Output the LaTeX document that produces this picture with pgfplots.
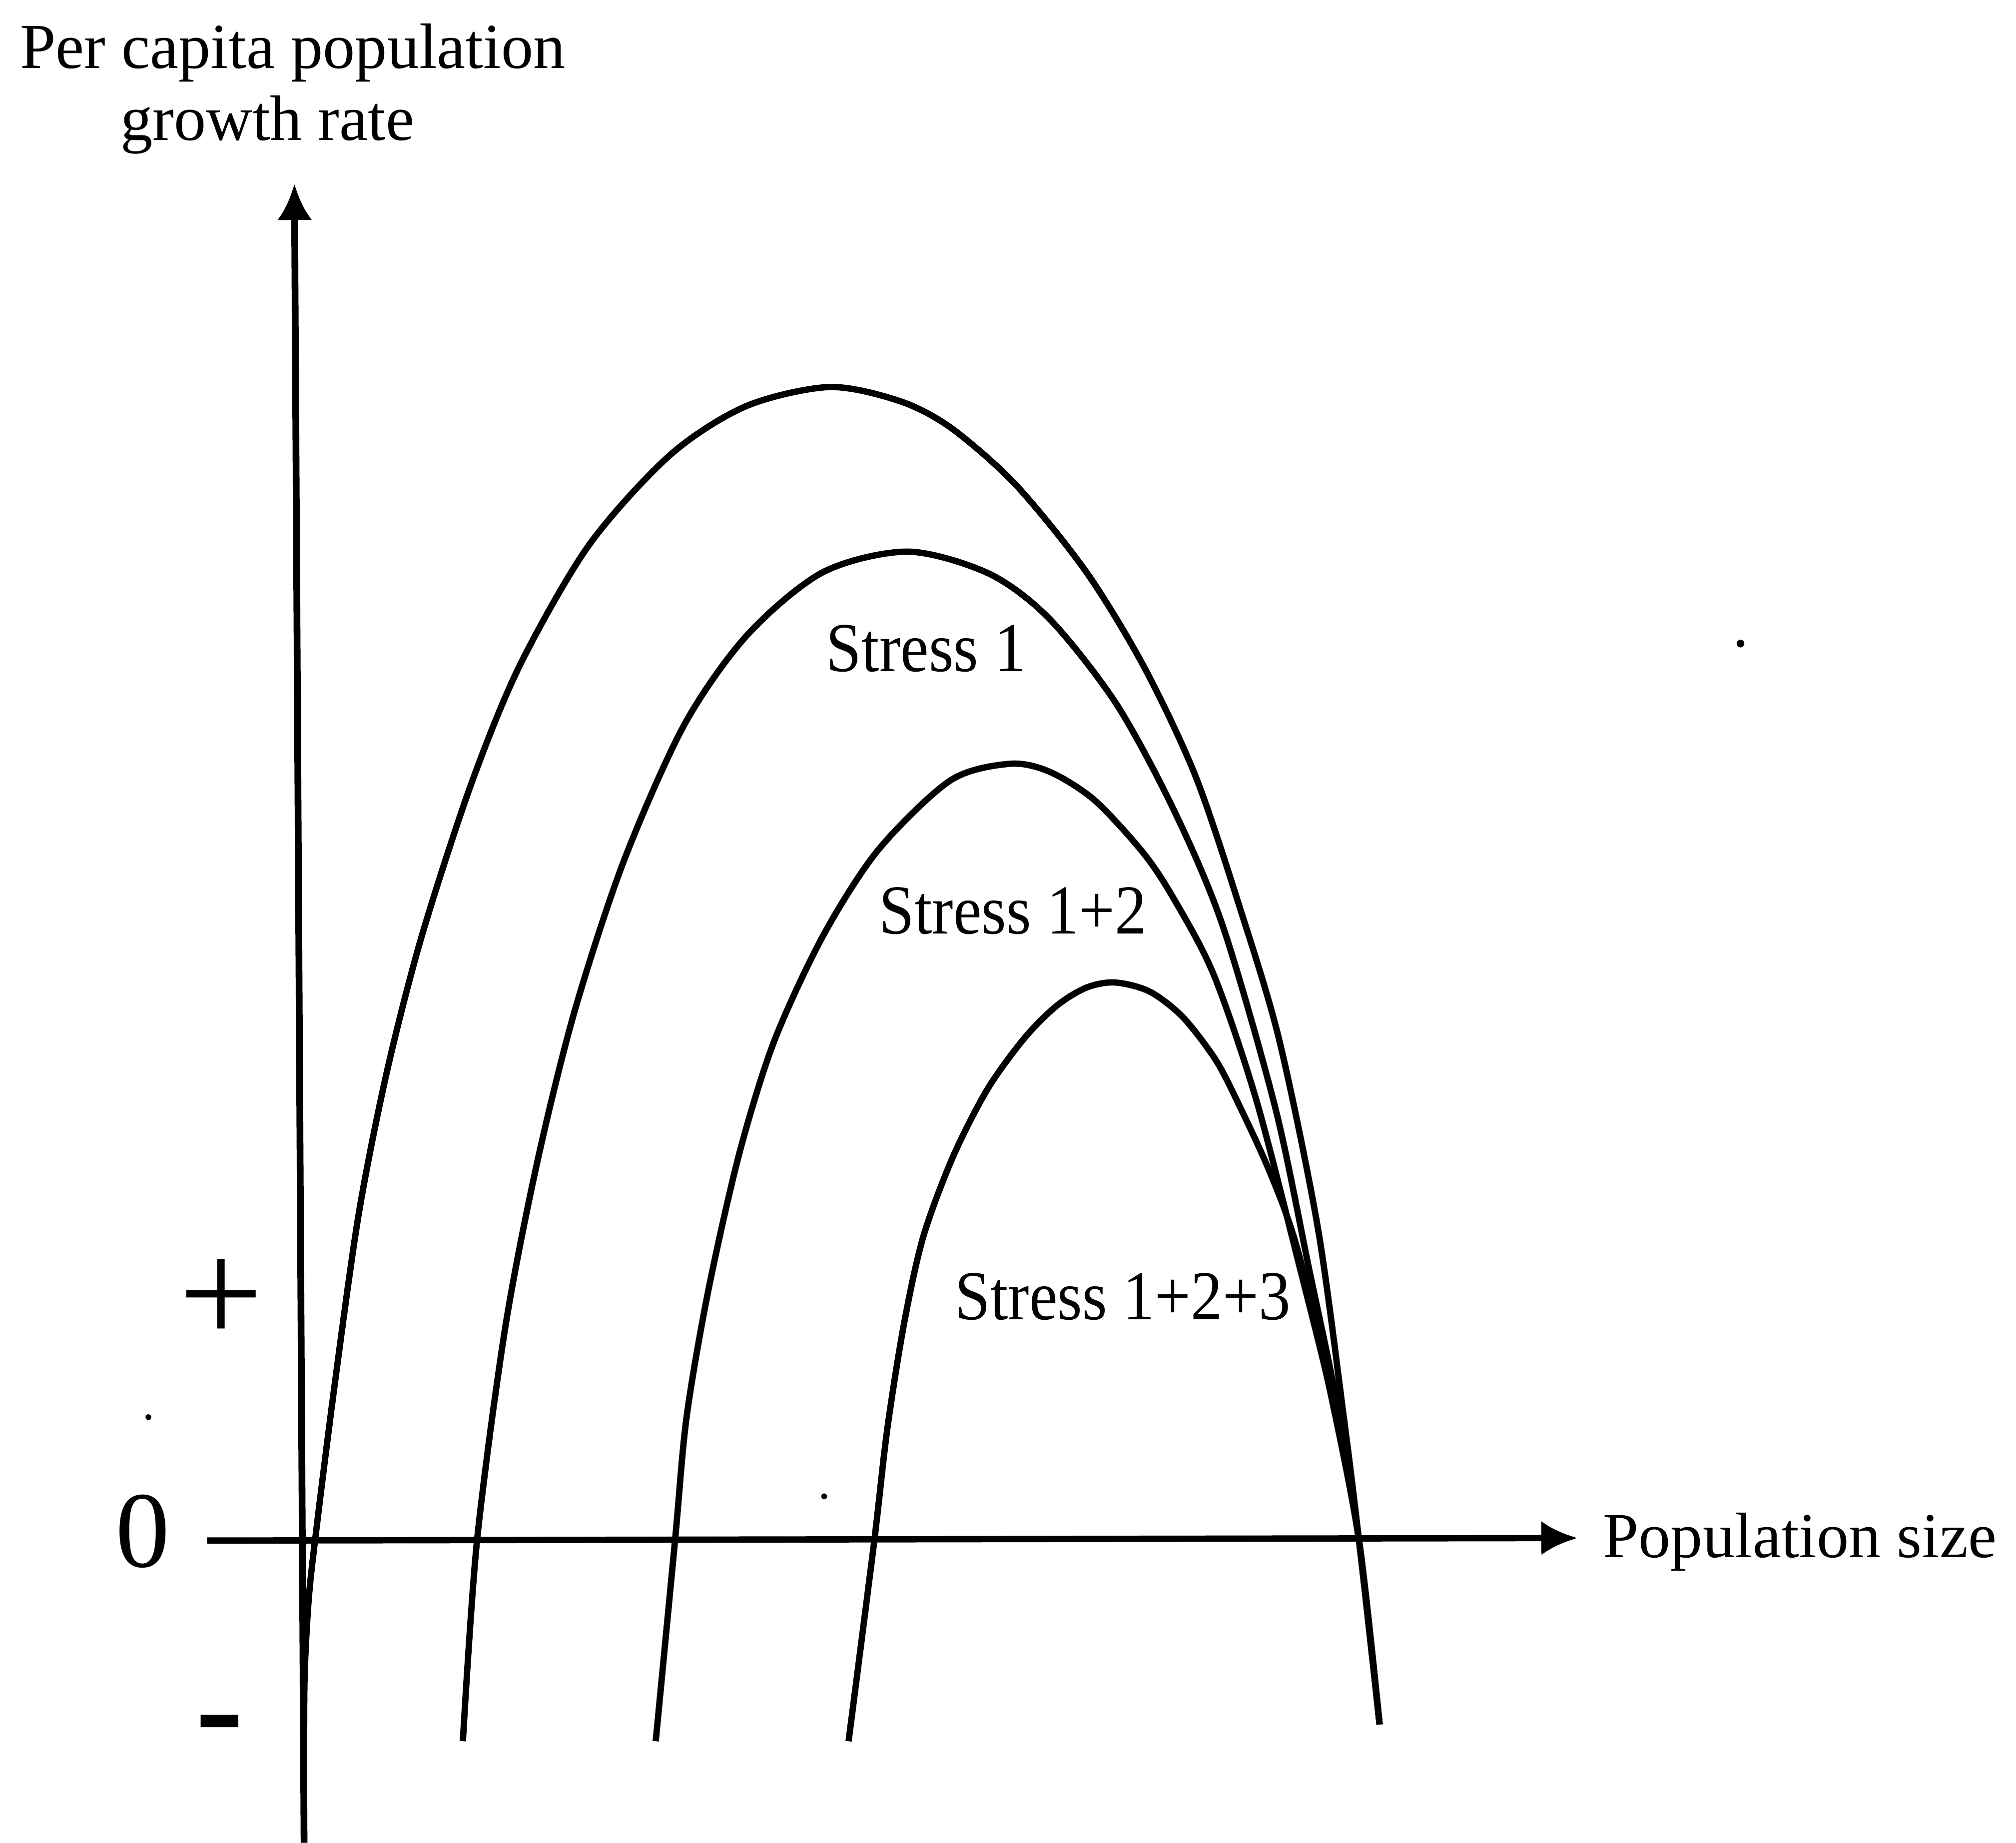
\documentclass[border=0pt]{standalone}
\usepackage{pgfplots}
\pgfplotsset{compat=1.18}
\usepackage{graphicx}
\usepackage{fontspec}
\setmainfont{Liberation Serif}
\usetikzlibrary{arrows.meta}
\begin{document}
\begin{tikzpicture}
\begin{axis}[
  scale only axis, width=15.68cm, height=14.33cm,
  xmin=0, xmax=1568, ymin=-235, ymax=1198,
  hide axis, clip=false]
% axes
\addplot[line width=1.5pt, -{Latex[length=8pt,width=7.7pt]}] coordinates {(236.5,-235) (229,1055)};
\addplot[line width=1.4pt, -{Latex[length=8pt,width=7.5pt]}] coordinates {(161,0) (1227,2)};
% no stress
\addplot[line width=1.4pt, smooth] coordinates {
(236.5,-154) (237,-102) (240,-47) (245,0) (260,119) (279,254) (301,365) (328,470)
(366,587) (404,680) (458,774) (521,844) (580,882) (645,897) (700,886) (740,865)
(790,821) (845,753) (890,679) (930,594) (965,490) (995,389) (1025,243) (1045,97)
(1057,0) (1073,-143)};
% stress 1
\addplot[line width=1.4pt, smooth] coordinates {
(360,-156) (371,0) (393,166) (418,295) (447,412) (485,528) (532,634) (581,704)
(640,753) (706,769) (769,752) (816,717) (868,651) (913,568) (951,478) (992,336)
(1018,212) (1040,106) (1057,0) (1073,-143)};
% stress 1+2
\addplot[line width=1.4pt, smooth] coordinates {
(510,-156) (525,0) (534,96) (551,195) (575,301) (602,388) (640,470) (683,537)
(739,591) (785,604) (816,598) (851,576) (889,535) (913,499) (944,440) (977,343)
(1011,212) (1036,110) (1057,0) (1073,-143)};
% stress 1+2+3
\addplot[line width=1.4pt, smooth] coordinates {
(660,-156) (680,0) (690,86) (703,168) (718,236) (741,298) (768,351) (797,391)
(822,416) (845,430) (867,434) (894,427) (920,407) (946,373) (965,336) (984,295)
(1000,255) (1013,212) (1034,119) (1057,0) (1073,-143)};
% specks
\addplot[only marks, mark=*, mark size=0.65pt] coordinates {(1353.7,697.5)};
\addplot[only marks, mark=*, mark size=0.45pt] coordinates {(641,34.4) (115.4,96)};
% labels
\node[anchor=base west, inner sep=0pt, font=\fontsize{14.2}{16}\selectfont] at (axis cs:15,1145) {Per capita population};
\node[anchor=base west, inner sep=0pt, font=\fontsize{14.2}{16}\selectfont] at (axis cs:93,1089) {growth rate};
\node[anchor=base west, inner sep=0pt, font=\fontsize{14.2}{16}\selectfont] at (axis cs:1246,-13) {Population size};
\node[anchor=base west, inner sep=0pt, font=\fontsize{14.1}{16}\selectfont] at (axis cs:642,676) {\scalebox{1}[1.1]{Stress 1}};
\node[anchor=base west, inner sep=0pt, font=\fontsize{14.1}{16}\selectfont] at (axis cs:683,472) {\scalebox{1}[1.1]{Stress 1+2}};
\node[anchor=base west, inner sep=0pt, font=\fontsize{14.1}{16}\selectfont] at (axis cs:742,172) {\scalebox{1}[1.1]{Stress 1+2+3}};
\node[anchor=center, inner sep=0pt, font=\fontsize{33}{33}\selectfont] at (axis cs:172,186) {+};
\node[anchor=center, inner sep=0pt, font=\fontsize{24}{24}\selectfont] at (axis cs:111,7) {0};
\node[anchor=base, inner sep=0pt, font=\bfseries\fontsize{32}{32}\selectfont] at (axis cs:171,-167) {-};
\end{axis}
\pgfresetboundingbox
\useasboundingbox (current axis.south west) rectangle (current axis.north east);
\end{tikzpicture}
\end{document}
